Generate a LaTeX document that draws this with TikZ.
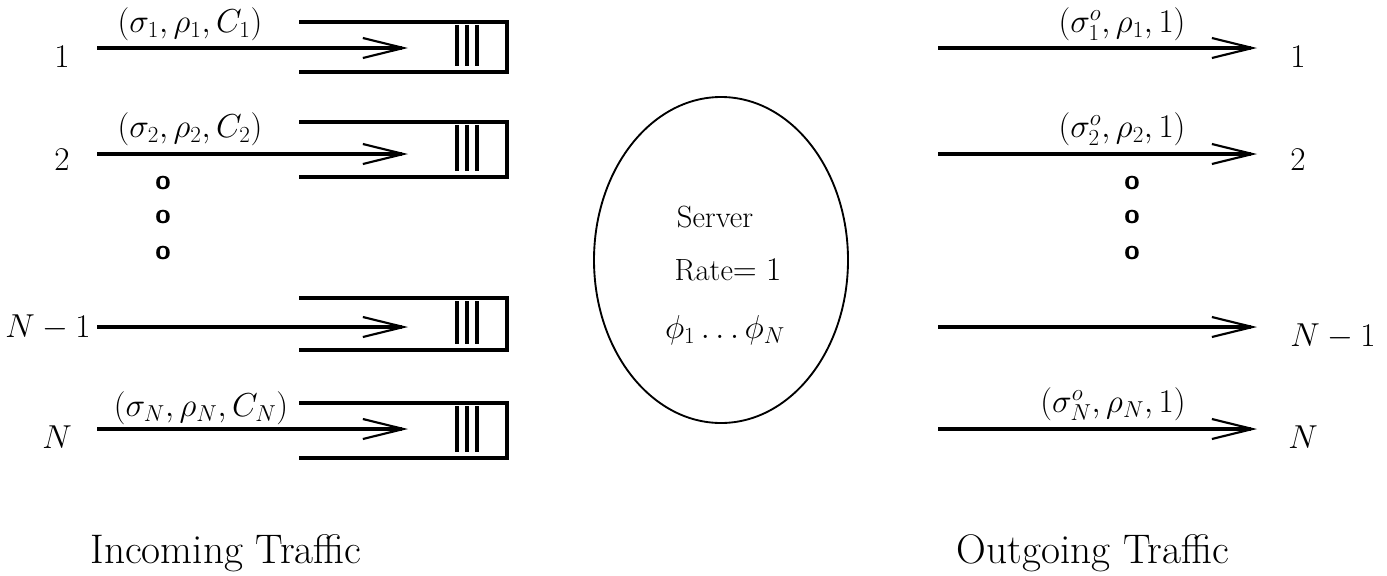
\documentclass[tikz,border=0pt]{standalone}
\usetikzlibrary{arrows.meta}
\begin{document}
\begin{tikzpicture}[x=0.75pt,y=-0.75pt,
  flow/.style={line width=2.3pt,-{Straight Barb[length=30.5pt,width=15pt,line width=1.6pt]}},
  queue/.style={line width=2.3pt},
  qbar/.style={line width=2.8pt},
  lbl/.style={inner sep=0pt,font=\fontsize{23}{27}\selectfont},
  dotmark/.style={inner sep=0pt,font=\fontsize{21}{24}\selectfont\sffamily\bfseries},
  caption/.style={inner sep=0pt,anchor=base,font=\fontsize{31}{36}\selectfont}]
\useasboundingbox (0,0) rectangle (1387,575);

% ---- incoming flows and their queues ----
% row y-positions: line, queue top, queue bottom
\foreach \r/\yl/\yt/\yb in {a/48/22/72, b/154/122/177, c/327/298/350, d/429/403/458}{
  \coordinate (s\r) at (97,\yl);
  \coordinate (t\r) at (408,\yl);
  \coordinate (qt\r) at (299,\yt);
  \coordinate (qr\r) at (507,\yt);
  \coordinate (qb\r) at (299,\yb);
  \draw[flow] (s\r) -- (t\r);
  \draw[queue] (qt\r) -- (qr\r) |- (qb\r);
  \foreach \bx in {457,467,477}
    \draw[qbar] (\bx,\yt+3) -- (\bx,\yb-6);
}

\node[lbl] (in1) at (62,57) {$1$};
\node[lbl] (in2) at (62,160) {$2$};
\node[lbl] (inN1) at (48,328) {$N-1$};
\node[lbl] (inN) at (57,437) {$N$};

\node[lbl] (la) at (190,24) {$(\sigma_1,\rho_1,C_1)$};
\node[lbl] (lb) at (190,129) {$(\sigma_2,\rho_2,C_2)$};
\node[lbl] (ld) at (201,408) {$(\sigma_N,\rho_N,C_N)$};

\foreach \i/\y in {1/183,2/217,3/253}
  \node[dotmark] (ldot\i) at (163,\y) {o};

% ---- server ----
\draw[line width=1.4pt] (721,260) ellipse [x radius=127, y radius=163];
\node[lbl] (srv) at (715,217) {Server};
\node[lbl] (rate) at (728,270) {Rate$=1$};
\node[lbl] (phi) at (725,330) {$\phi_1\ldots\phi_N$};

% ---- outgoing flows ----
\foreach \r/\yl in {a/48, b/154, c/327, d/429}{
  \coordinate (os\r) at (938,\yl);
  \coordinate (ot\r) at (1257,\yl);
  \draw[flow] (os\r) -- (ot\r);
}

\node[lbl] (out1) at (1298,57) {$1$};
\node[lbl] (out2) at (1298,160) {$2$};
\node[lbl] (outN1) at (1333,337) {$N-1$};
\node[lbl] (outN) at (1303,437) {$N$};

\node[lbl] (ola) at (1122,24) {$(\sigma_1^o,\rho_1,1)$};
\node[lbl] (olb) at (1122,129) {$(\sigma_2^o,\rho_2,1)$};
\node[lbl] (old) at (1113,404) {$(\sigma_N^o,\rho_N,1)$};

\foreach \i/\y in {1/183,2/217,3/253}
  \node[dotmark] (rdot\i) at (1132,\y) {o};

% ---- captions ----
\node[caption] (incap) at (226,563) {Incoming Traffic};
\node[caption] (outcap) at (1093,563) {Outgoing Traffic};
\end{tikzpicture}
\end{document}
